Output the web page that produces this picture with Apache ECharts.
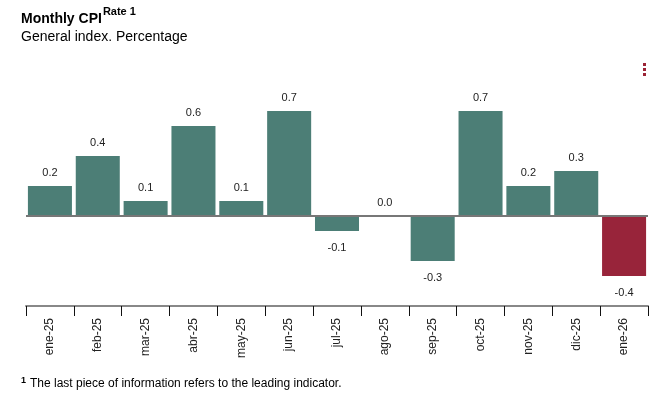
<!DOCTYPE html>
<html>
<head>
<meta charset="utf-8">
<script src="https://cdn.jsdelivr.net/npm/echarts@6/dist/echarts.min.js"></script>
<style>
  html, body { margin: 0; padding: 0; background: #fff; }
  #main { width: 667px; height: 398px; }
</style>
</head>
<body>
<div id="main"></div>
<script>
// meses y variación mensual del IPC
var months = ['ene-25', 'feb-25', 'mar-25', 'abr-25', 'may-25', 'jun-25', 'jul-25',
              'ago-25', 'sep-25', 'oct-25', 'nov-25', 'dic-25', 'ene-26'];
var rates = [0.2, 0.4, 0.1, 0.6, 0.1, 0.7, -0.1, 0.0, -0.3, 0.7, 0.2, 0.3, -0.4];
var leadingIdx = 12;  // último dato = indicador adelantado

var green = '#4c7e76';
var red = '#98243a';

var myChart = echarts.init(document.getElementById('main'));

var barData = [];
for (var i = 0; i < rates.length; i++) {
    barData.push({
        value: rates[i],
        itemStyle: { color: i === leadingIdx ? red : green },
        label: rates[i] < 0 ? { position: 'bottom', distance: 11 } : { position: 'top', distance: 8 }
    });
}

var option = {
    animation: false,
    textStyle: { fontFamily: 'Liberation Sans, Arial, sans-serif' },
    title: [{
        left: 16,
        top: 1,
        text: '{a|Monthly CPI}{b|Rate 1}',
        textStyle: {
            rich: {
                a: { fontSize: 14, fontWeight: 'bold', color: '#000', fontFamily: 'Liberation Sans', lineHeight: 20, verticalAlign: 'bottom' },
                b: { fontSize: 11, fontWeight: 'bold', color: '#000', fontFamily: 'Liberation Sans', lineHeight: 20, verticalAlign: 'top', padding: [0, 0, 6, 1] }
            }
        }
    }, {
        left: 16,
        top: 25,
        text: 'General index. Percentage',
        textStyle: { fontSize: 14, fontWeight: 'normal', color: '#000', fontFamily: 'Liberation Sans' }
    }, {
        left: 16,
        top: 371,
        text: '{s|1}{t|The last piece of information refers to the leading indicator.}',
        textStyle: {
            fontWeight: 'normal',
            rich: {
                s: { fontSize: 9, fontWeight: 'bold', color: '#000', fontFamily: 'Liberation Sans', verticalAlign: 'top', lineHeight: 16, padding: [0, 4, 4, 0] },
                t: { fontSize: 12, fontWeight: 'normal', color: '#000', fontFamily: 'Liberation Sans', lineHeight: 16 }
            }
        }
    }],
    graphic: [
        { type: 'rect', left: 643, top: 63, shape: { width: 3, height: 3 }, style: { fill: '#9b2335' } },
        { type: 'rect', left: 643, top: 68, shape: { width: 3, height: 3 }, style: { fill: '#9b2335' } },
        { type: 'rect', left: 643, top: 73, shape: { width: 3, height: 3 }, style: { fill: '#9b2335' } }
    ],
    grid: { left: 26, right: 19, top: 96, bottom: 92, containLabel: false },
    xAxis: {
        type: 'category',
        data: months,
        axisLine: { onZero: false, lineStyle: { color: '#888', width: 2 } },
        axisTick: { show: true, length: 10, lineStyle: { color: '#111' } },
        axisLabel: { rotate: 90, margin: 12, fontSize: 12, color: '#222', fontFamily: 'Liberation Sans' }
    },
    yAxis: {
        type: 'value',
        min: -0.6,
        max: 0.8,
        show: false,
        splitLine: { show: false }
    },
    series: [{
        name: 'Monthly CPI',
        type: 'bar',
        data: barData,
        barCategoryGap: '8%',
        label: {
            show: true,
            fontSize: 11,
            color: '#222',
            fontFamily: 'Liberation Sans',
            formatter: function (p) { return p.value.toFixed(1); }
        },
        markLine: {
            silent: true,
            symbol: 'none',
            label: { show: false },
            lineStyle: { color: '#777', width: 2, type: 'solid' },
            data: [{ yAxis: 0 }]
        }
    }]
};
myChart.setOption(option);
window.onresize = myChart.resize;
</script>
</body>
</html>
